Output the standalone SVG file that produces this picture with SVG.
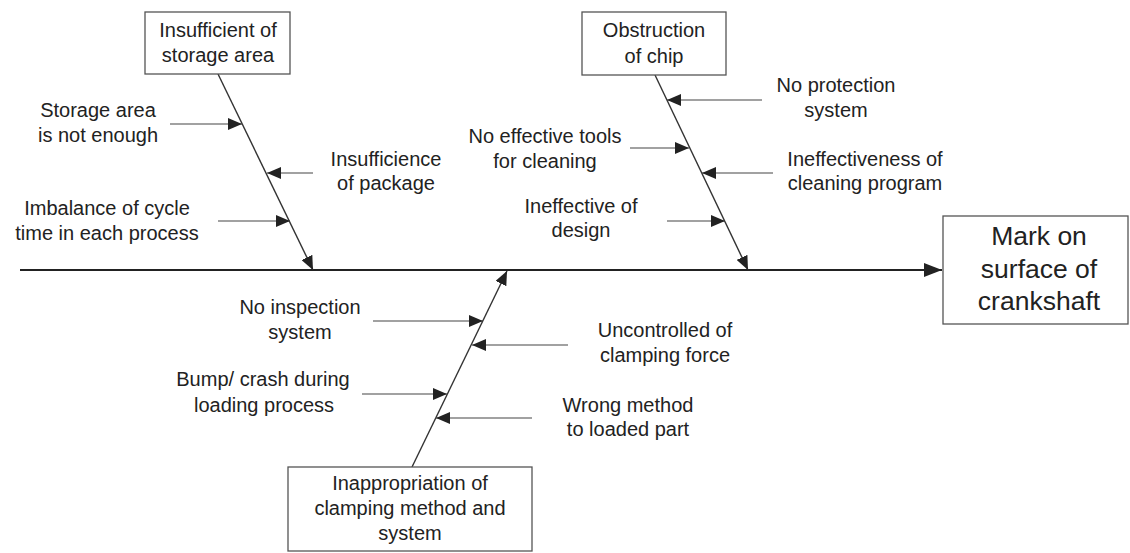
<svg xmlns="http://www.w3.org/2000/svg" width="1130" height="553" viewBox="0 0 1130 553">
<style>
text{font-family:"Liberation Sans",Arial,sans-serif;font-size:20px;fill:#222;text-anchor:middle}
.big{font-size:26.5px}
.box{fill:#fff;stroke:#555;stroke-width:1.3}
.c{stroke:#444;stroke-width:1.2;fill:none}
.bone{stroke:#333;stroke-width:1.4;fill:none}
.spine{stroke:#222;stroke-width:2.2;fill:none}
</style>
<defs>
<marker id="ah" markerUnits="userSpaceOnUse" markerWidth="14" markerHeight="12" refX="14" refY="6" orient="auto">
<path d="M0,0 L14,6 L0,12 z" fill="#222"/>
</marker>
<marker id="ahb" markerUnits="userSpaceOnUse" markerWidth="18" markerHeight="14" refX="18" refY="7" orient="auto">
<path d="M0,0 L18,7 L0,14 z" fill="#222"/>
</marker>
</defs>
<rect width="1130" height="553" fill="#fff"/>
<g id="connectors">
<line class="spine" x1="20" y1="270" x2="942" y2="270" marker-end="url(#ahb)"/>
<line class="bone" x1="218" y1="74" x2="313" y2="270" marker-end="url(#ah)"/>
<line class="bone" x1="655" y1="75" x2="748" y2="270" marker-end="url(#ah)"/>
<line class="bone" x1="412" y1="467" x2="507" y2="271" marker-end="url(#ah)"/>
<line class="c" x1="170" y1="124" x2="242" y2="124" marker-end="url(#ah)"/>
<line class="c" x1="313" y1="173" x2="267" y2="173" marker-end="url(#ah)"/>
<line class="c" x1="218" y1="221" x2="290" y2="221" marker-end="url(#ah)"/>
<line class="c" x1="762" y1="100" x2="667" y2="100" marker-end="url(#ah)"/>
<line class="c" x1="630" y1="148" x2="689" y2="148" marker-end="url(#ah)"/>
<line class="c" x1="773" y1="173" x2="702" y2="173" marker-end="url(#ah)"/>
<line class="c" x1="667" y1="221" x2="725" y2="221" marker-end="url(#ah)"/>
<line class="c" x1="373" y1="321" x2="483" y2="321" marker-end="url(#ah)"/>
<line class="c" x1="568" y1="345" x2="472" y2="345" marker-end="url(#ah)"/>
<line class="c" x1="362" y1="394" x2="447" y2="394" marker-end="url(#ah)"/>
<line class="c" x1="532" y1="418" x2="436" y2="418" marker-end="url(#ah)"/>
</g>
<g id="storage">
<rect class="box" x="145" y="12" width="145" height="62"/>
<text x="218" y="37">Insufficient of</text>
<text x="218" y="62">storage area</text>
</g>
<g id="chip">
<rect class="box" x="582" y="12" width="144" height="63"/>
<text x="654" y="37">Obstruction</text>
<text x="654" y="63">of chip</text>
</g>
<g id="effect">
<rect class="box" x="943" y="216" width="185" height="108"/>
<text class="big" x="1039" y="245">Mark on</text>
<text class="big" x="1039" y="278">surface of</text>
<text class="big" x="1039" y="310">crankshaft</text>
</g>
<g id="clamping">
<rect class="box" x="288" y="467" width="244" height="84"/>
<text x="410" y="490">Inappropriation of</text>
<text x="410" y="515">clamping method and</text>
<text x="410" y="540">system</text>
</g>
<g id="c-storage-not-enough"><text x="98" y="117">Storage area</text><text x="98" y="142">is not enough</text></g>
<g id="c-package"><text x="386" y="166">Insufficience</text><text x="386" y="190">of package</text></g>
<g id="c-imbalance"><text x="107" y="215">Imbalance of cycle</text><text x="107" y="240">time in each process</text></g>
<g id="c-protection"><text x="836" y="92">No protection</text><text x="836" y="117">system</text></g>
<g id="c-tools"><text x="545" y="143">No effective tools</text><text x="545" y="168">for cleaning</text></g>
<g id="c-program"><text x="865" y="166">Ineffectiveness of</text><text x="865" y="190">cleaning program</text></g>
<g id="c-design"><text x="581" y="213">Ineffective of</text><text x="581" y="237">design</text></g>
<g id="c-inspection"><text x="300" y="314">No inspection</text><text x="300" y="339">system</text></g>
<g id="c-force"><text x="665" y="337">Uncontrolled of</text><text x="665" y="362">clamping force</text></g>
<g id="c-bump"><text x="263" y="386">Bump/ crash during</text><text x="264" y="412">loading process</text></g>
<g id="c-wrong"><text x="628" y="412">Wrong method</text><text x="628" y="436">to loaded part</text></g>
</svg>
